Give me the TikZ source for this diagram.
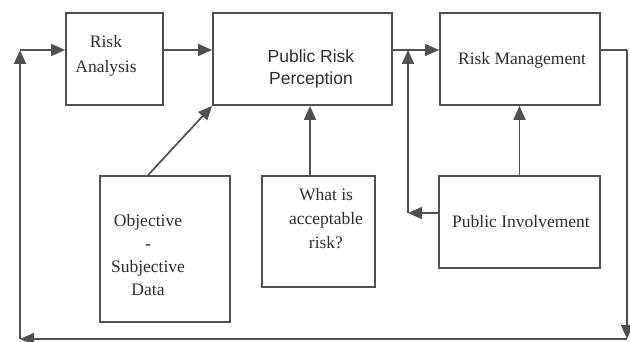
\documentclass[tikz,border=0pt]{standalone}
\usepackage{fontspec}
\setmainfont{Liberation Serif}
\newfontfamily\perceptfont{Liberation Sans}
\usetikzlibrary{arrows.meta,positioning}
\definecolor{boxgray}{RGB}{80, 80, 80}
\definecolor{inkgray}{RGB}{45, 45, 45}
\tikzset{
 riskbox/.style={
 rectangle,
 draw=boxgray,
 line width=1.7pt,
 inner sep=0pt
 },
 boxtext/.style={
 align=center,
 inner sep=0pt,
 text=inkgray,
 font=\fontsize{17.5}{24}\selectfont
 },
 flowarrow/.style={-{Triangle[length=14pt,width=12pt]}, line width=1.7pt, draw=boxgray},
 flowline/.style={line width=1.7pt, draw=boxgray}
}

\begin{document}
\begin{tikzpicture}[x=1pt,y=-1pt]
 \useasboundingbox (0,0) rectangle (630,342);
 % boxes
 \node[riskbox, minimum width=97pt, minimum height=92pt] (ra) at (114.5,59) {};
 \node[riskbox, minimum width=179pt, minimum height=92pt] (prp) at (302.5,59) {};
 \node[riskbox, minimum width=160pt, minimum height=92pt] (rm) at (520,59) {};
 \node[riskbox, minimum width=130pt, minimum height=146pt] (obj) at (165,249) {};
 \node[riskbox, minimum width=113pt, minimum height=111pt] (wia) at (318.5,231.5) {};
 \node[riskbox, minimum width=161pt, minimum height=92pt] (pi) at (519.5,222) {};
 % texts
 \node[boxtext, font=\fontsize{17.5}{25}\selectfont] (ra-text) at (106,56) {Risk\\Analysis};
 \node[boxtext, font=\perceptfont\fontsize{17.5}{22}\selectfont] (prp-text) at (311,69) {Public Risk\\Perception};
 \node[boxtext] (rm-text) at (522,60) {Risk Management};
 \node[boxtext, font=\fontsize{17.5}{23}\selectfont] (obj-text) at (148,255) {Objective\\-\\Subjective\\Data};
 \node[boxtext] (wia-text) at (326,219) {What is\\acceptable\\risk?};
 \node[boxtext] (pi-text) at (521,222) {Public Involvement};
 % corners of the feedback loop
 \coordinate (tr) at (627,50);
 \coordinate (br) at (627,339);
 \coordinate (bl) at (20,339);
 \coordinate (tl) at (20,50);
 \coordinate (join) at (408,50);
 \coordinate (joinlow) at (408,213);
 % arrows
 \draw[flowarrow] ([yshift=9pt]ra.east) -- ([yshift=9pt]prp.west);
 \draw[flowarrow] ([yshift=9pt]prp.east) -- ([yshift=9pt]rm.west);
 \draw[flowarrow] ([xshift=-17pt]obj.north) -- (prp.south west);
 \draw[flowarrow] ([xshift=-8.5pt]wia.north) -- ([xshift=-8.5pt]wia.north |- prp.south);
 \draw[flowarrow] (pi.north) -- (pi.north |- rm.south);
 \draw[flowarrow] ([yshift=9pt]pi.west) -- (joinlow);
 \draw[flowarrow] (joinlow) -- (join);
 \draw[flowline] ([yshift=9pt]rm.east) -- (tr);
 \draw[flowarrow] (tr) -- (br);
 \draw[flowarrow] (br) -- (bl);
 \draw[flowarrow] (bl) -- (tl);
 \draw[flowarrow] (tl) -- ([yshift=9pt]ra.west);
\end{tikzpicture}
\end{document}
